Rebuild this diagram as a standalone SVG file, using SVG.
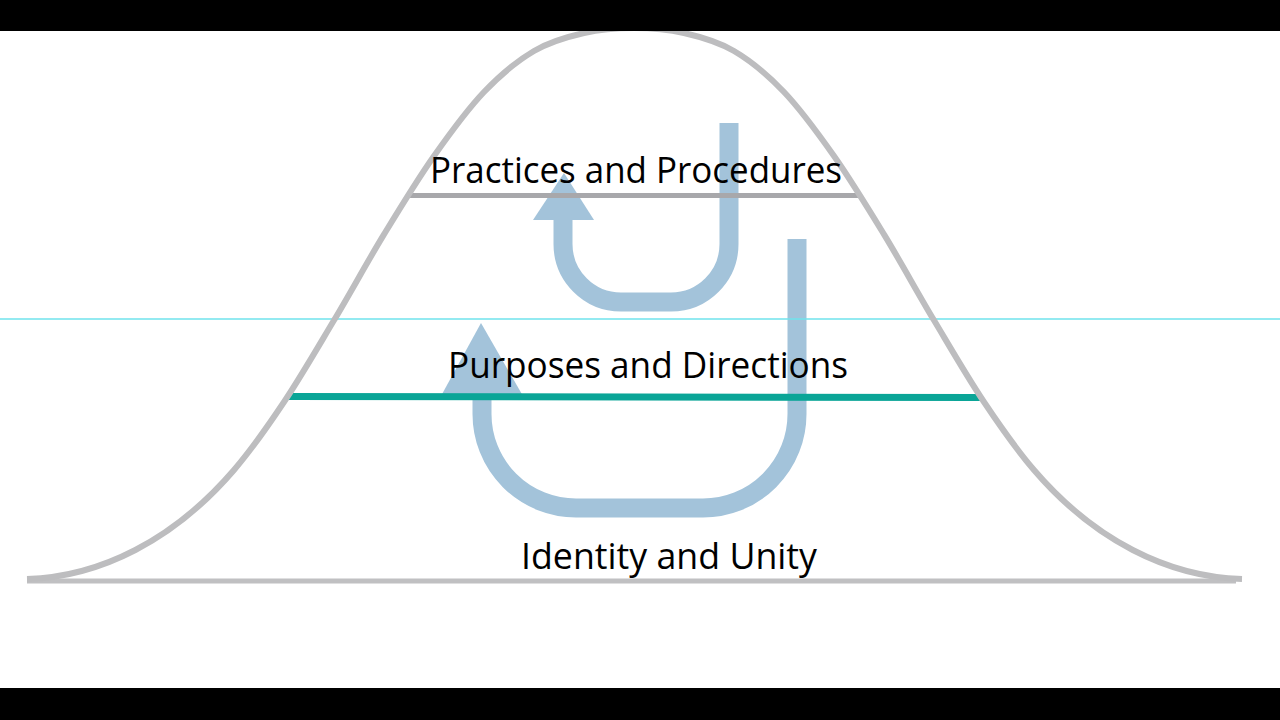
<svg xmlns="http://www.w3.org/2000/svg" width="1280" height="720" viewBox="0 0 1280 720">
  <style>
    .arrow { fill: none; stroke: #a3c3da; stroke-width: 19; stroke-linecap: butt; }
    .head { fill: #a3c3da; }
    .label { font-family: "Open Sans", "Noto Sans", "Liberation Sans", sans-serif; font-size: 36px; fill: #000000; text-anchor: start; }
  </style>
  <rect x="0" y="0" width="1280" height="720" fill="#ffffff"/>
  <g id="connectors">
    <path class="arrow" d="M729,123 V244 A58,58 0 0 1 671,302 H621 A58,58 0 0 1 563,244 V218"/>
    <polygon class="head" points="533,220 594,220 564,173"/>
    <path class="arrow" d="M797,239 V414 A94,94 0 0 1 703,508 H576 A94,94 0 0 1 482,414 V393"/>
    <polygon class="head" points="441,396 523,396 481,323"/>
  </g>
  <g id="guide-line">
    <line x1="0" y1="319" x2="1280" y2="319" stroke="#6fe3ec" stroke-width="1.3"/>
  </g>
  <g id="level-lines">
    <line x1="408" y1="195.5" x2="861" y2="195.5" stroke="#a8a8ab" stroke-width="5"/>
    <line x1="288" y1="396.5" x2="982" y2="397.5" stroke="#0aa597" stroke-width="7"/>
    <line x1="27" y1="581" x2="1236" y2="581" stroke="#c0c0c2" stroke-width="5"/>
  </g>
  <g id="bell-curve">
    <path fill="none" stroke="#bdbdbf" stroke-width="6" d="M27,579 C100,577 174,540 234,470 C250.7,450.5 267.3,427 284,402 C300.7,377 317.3,348.2 334,320.3 C350.7,292.4 367.3,261.8 384,234.4 C400.7,207 417.3,179.7 434,156 C450.7,132.3 467.3,109.5 484,92 C500.7,74.5 517.3,60.8 534,51 C550.7,41.2 567.3,36.8 584,33 C600.7,29.2 617.3,28 634,28 C650.7,28 667.3,29.2 684,33 C700.7,36.8 717.3,41.2 734,51 C750.7,60.8 767.3,74.5 784,92 C800.7,109.5 817.3,132.3 834,156 C850.7,179.7 867.3,207 884,234.4 C900.7,261.8 917.3,292.4 934,320.3 C950.7,348.2 967.3,377 984,402 C1000.7,427 1017.3,450.5 1034,470 C1094,540 1168,577 1242,579"/>
  </g>
  <g id="node-practices">
    <text class="label" x="430" y="183" textLength="412" lengthAdjust="spacingAndGlyphs">Practices and Procedures</text>
  </g>
  <g id="node-purposes">
    <text class="label" x="448" y="378" textLength="400" lengthAdjust="spacingAndGlyphs">Purposes and Directions</text>
  </g>
  <g id="node-identity">
    <text class="label" x="521" y="569" textLength="296" lengthAdjust="spacingAndGlyphs">Identity and Unity</text>
  </g>
  <g id="frame">
    <rect x="0" y="0" width="1280" height="31" fill="#000000"/>
    <rect x="0" y="688" width="1280" height="32" fill="#000000"/>
  </g>
</svg>
